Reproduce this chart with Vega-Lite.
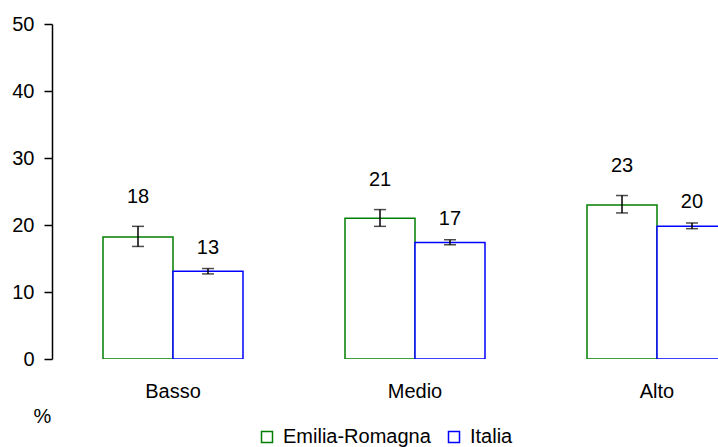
{
  "$schema": "https://vega.github.io/schema/vega-lite/v6.json",
  "width": 666,
  "height": 335,
  "autosize": {"type": "none"},
  "padding": {"left": 52, "top": 24, "right": 0, "bottom": 88},
  "background": "white",
  "config": {
    "view": {"stroke": null},
    "font": "Liberation Sans",
    "axis": {"labelFont": "Liberation Sans", "labelColor": "black", "titleFont": "Liberation Sans", "titleColor": "black", "titleFontWeight": "normal", "grid": false},
    "legend": {"labelFont": "Liberation Sans", "labelColor": "black"}
  },
  "data": {
    "values": [
      {"livello": "Basso", "area": "Emilia-Romagna", "valore": 18.2, "lower": 16.8, "upper": 19.8, "label": "18"},
      {"livello": "Basso", "area": "Italia", "valore": 13.1, "lower": 12.7, "upper": 13.5, "label": "13"},
      {"livello": "Medio", "area": "Emilia-Romagna", "valore": 21.0, "lower": 19.8, "upper": 22.3, "label": "21"},
      {"livello": "Medio", "area": "Italia", "valore": 17.4, "lower": 17.05, "upper": 17.8, "label": "17"},
      {"livello": "Alto", "area": "Emilia-Romagna", "valore": 23.0, "lower": 21.8, "upper": 24.4, "label": "23"},
      {"livello": "Alto", "area": "Italia", "valore": 19.8, "lower": 19.45, "upper": 20.3, "label": "20"}
    ]
  },
  "encoding": {
    "x": {
      "field": "livello", "type": "nominal", "sort": ["Basso", "Medio", "Alto"],
      "scale": {"range": [0, 726], "paddingInner": 0.4215, "paddingOuter": 0.21075},
      "axis": {"title": null, "domain": false, "ticks": false, "labelAngle": 0, "labelFontSize": 20, "labelPadding": 22}
    },
    "xOffset": {"field": "area", "type": "nominal", "sort": ["Emilia-Romagna", "Italia"]}
  },
  "layer": [
    {
      "mark": {"type": "bar", "fill": "white", "strokeWidth": 1.5, "clip": true},
      "encoding": {
        "y": {
          "field": "valore", "type": "quantitative",
          "scale": {"domain": [0, 50], "nice": false},
          "axis": {
            "values": [0, 10, 20, 30, 40, 50], "domainColor": "black", "domainWidth": 1.5,
            "tickColor": "black", "tickSize": 8, "tickWidth": 1.5, "labelFontSize": 20, "labelPadding": 10,
            "title": "%", "titleAngle": 0, "titleFontSize": 20, "titleX": -10, "titleY": 392,
            "titleAlign": "center", "titleBaseline": "middle"
          }
        },
        "stroke": {
          "field": "area", "type": "nominal",
          "scale": {"domain": ["Emilia-Romagna", "Italia"], "range": ["#008000", "#0000ff"]},
          "legend": {
            "title": null, "orient": "none", "direction": "horizontal", "legendX": 205, "legendY": 403,
            "symbolType": "square", "symbolSize": 121, "symbolFillColor": "white", "symbolStrokeWidth": 1.5,
            "labelFontSize": 20, "labelOffset": 6, "columnPadding": 13, "padding": 0
          }
        }
      }
    },
    {
      "mark": {"type": "rule", "color": "black", "strokeWidth": 1.5},
      "encoding": {"y": {"field": "lower", "type": "quantitative"}, "y2": {"field": "upper"}}
    },
    {
      "mark": {"type": "tick", "color": "black", "size": 12, "thickness": 1.5, "orient": "horizontal"},
      "encoding": {"y": {"field": "upper", "type": "quantitative"}}
    },
    {
      "mark": {"type": "tick", "color": "black", "size": 12, "thickness": 1.5, "orient": "horizontal"},
      "encoding": {"y": {"field": "lower", "type": "quantitative"}}
    },
    {
      "transform": [{"filter": "datum.area === 'Emilia-Romagna'"}],
      "mark": {"type": "text", "color": "black", "fontSize": 20, "baseline": "middle", "dy": -29.5},
      "encoding": {"y": {"field": "upper", "type": "quantitative"}, "text": {"field": "label"}}
    },
    {
      "transform": [{"filter": "datum.area === 'Italia'"}],
      "mark": {"type": "text", "color": "black", "fontSize": 20, "baseline": "middle", "dy": -20.5},
      "encoding": {"y": {"field": "upper", "type": "quantitative"}, "text": {"field": "label"}}
    }
  ]
}
